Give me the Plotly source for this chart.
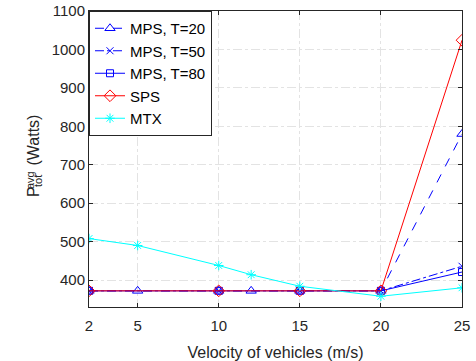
import plotly.graph_objects as go

# Data
x_full = [2, 5, 10, 12, 15, 20, 25]
x_sub = [2, 10, 15, 20, 25]
mps_t20 = [372, 372, 372, 372, 372, 372, 780]
mps_t50 = [372, 372, 372, 372, 436]
mps_t80 = [372, 372, 372, 372, 421]
sps = [372, 372, 372, 372, 1024]
mtx = [508, 490, 438, 414, 384, 358, 380]
x_ticks = [2, 5, 10, 15, 20, 25]
y_ticks = [400, 500, 600, 700, 800, 900, 1000, 1100]

FONT = "Liberation Sans, Arial, Helvetica, sans-serif"
BLUE = "#0000FF"
RED = "#FF0000"
CYAN = "#00FFFF"

fig = go.Figure()
fig.add_trace(go.Scatter(x=x_full, y=mps_t20, name="MPS, T=20", mode="lines+markers",
                         line=dict(color=BLUE, width=1, dash="dash"),
                         marker=dict(symbol="triangle-up-open", size=9, color=BLUE, line=dict(width=1))))
fig.add_trace(go.Scatter(x=x_sub, y=mps_t50, name="MPS, T=50", mode="lines+markers",
                         line=dict(color=BLUE, width=1, dash="dashdot"),
                         marker=dict(symbol="x-thin-open", size=7, color=BLUE, line=dict(width=1, color=BLUE))))
fig.add_trace(go.Scatter(x=x_sub, y=mps_t80, name="MPS, T=80", mode="lines+markers",
                         line=dict(color=BLUE, width=1),
                         marker=dict(symbol="square-open", size=7, color=BLUE, line=dict(width=1))))
fig.add_trace(go.Scatter(x=x_sub, y=sps, name="SPS", mode="lines+markers",
                         line=dict(color=RED, width=1),
                         marker=dict(symbol="diamond-open", size=9, color=RED, line=dict(width=1))))
fig.add_trace(go.Scatter(x=x_full, y=mtx, name="MTX", mode="lines+markers",
                         line=dict(color=CYAN, width=1),
                         marker=dict(symbol="asterisk-open", size=8, color=CYAN, line=dict(width=1, color=CYAN))))

L, R, T, B = 89, 14, 11, 54
W, H = 476, 361
pw, ph = W - L - R, H - T - B

def px(xp):
    return (xp - L) / pw

def py(yp):
    return (H - B - yp) / ph

axis_common = dict(showline=True, linecolor="#262626", linewidth=1, mirror="ticks",
                   ticks="inside", ticklen=4, tickcolor="#262626",
                   showgrid=True, gridcolor="#e3e3e3", griddash="dashdot", gridwidth=1,
                   zeroline=False, automargin=False,
                   tickfont=dict(family=FONT, size=15, color="#262626"))

fig.update_xaxes(range=[2, 25], tickvals=x_ticks, ticklabelstandoff=5,
                 title=dict(text="Velocity of vehicles (m/s)", font=dict(family=FONT, size=16, color="#262626"), standoff=16),
                 **axis_common)
fig.update_yaxes(range=[330, 1100], tickvals=y_ticks, **axis_common)

# y-axis title with stacked super/subscript
ann = []
ann.append(dict(text="(Watts)", x=px(32.5), y=py(140), size=16))
ann.append(dict(text="P", x=px(33), y=py(192), size=16))
ann.append(dict(text="avg", x=px(30), y=py(180), size=11))
ann.append(dict(text="tot", x=px(37.5), y=py(181.5), size=11))
for a in ann:
    fig.add_annotation(text=a["text"], x=a["x"], y=a["y"], xref="paper", yref="paper",
                       showarrow=False, textangle=-90, xanchor="center", yanchor="middle",
                       font=dict(family=FONT, size=a["size"], color="#262626"))

fig.update_layout(
    width=W, height=H,
    margin=dict(l=L, r=R, t=T, b=B),
    paper_bgcolor="white", plot_bgcolor="white",
    font=dict(family=FONT, color="#262626"),
    legend=dict(x=0, y=1, xanchor="left", yanchor="top", bgcolor="white",
                bordercolor="#262626", borderwidth=1,
                font=dict(family=FONT, size=15, color="#000000"),
                tracegroupgap=0, itemwidth=30),
    showlegend=True,
)

fig.write_html("out.html", config={"displayModeBar": False})

# remove default body margin so the figure sits at the page origin
with open("out.html", "r", encoding="utf-8") as f:
    html = f.read()
html = html.replace("<head>", "<head><style>html,body{margin:0;padding:0;}</style>", 1)
with open("out.html", "w", encoding="utf-8") as f:
    f.write(html)
